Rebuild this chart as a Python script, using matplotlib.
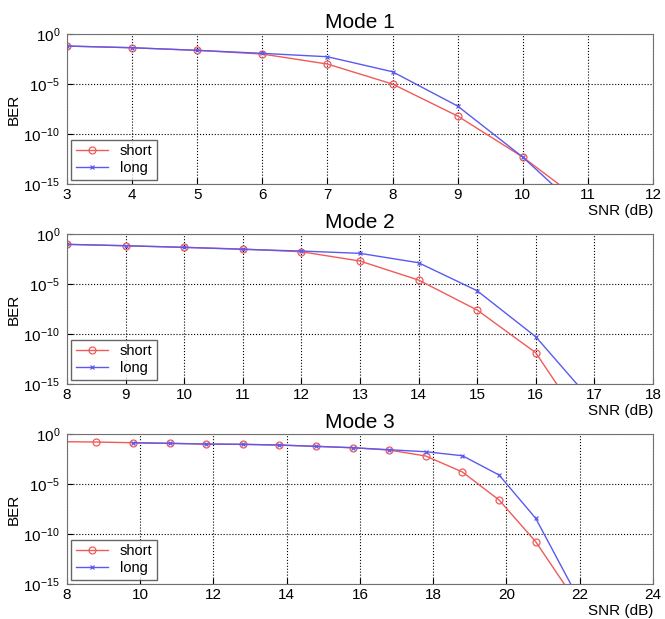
import matplotlib
matplotlib.use("Agg")
import matplotlib.pyplot as plt
import numpy as np

plt.rcParams['font.family'] = ['Liberation Sans', 'DejaVu Sans']

# log10(BER)
snr1 = [3, 4, 5, 6, 7, 8, 9, 10, 11]
short1 = [-1.2, -1.37, -1.63, -2.0, -3.0, -5.0, -8.2, -12.3, -17.2]
long1 = [-1.2, -1.37, -1.63, -1.93, -2.27, -3.77, -7.2, -12.3, -18.3]

snr2 = [8, 9, 10, 11, 12, 13, 14, 15, 16, 17]
short2 = [-1.03, -1.17, -1.33, -1.5, -1.77, -2.7, -4.6, -7.6, -11.87, -20.6]
long2 = [-1.03, -1.17, -1.33, -1.53, -1.7, -1.93, -2.87, -5.67, -10.27, -17.0]

snr3_short = [7.8, 8.8, 9.8, 10.8, 11.8, 12.8, 13.8, 14.8, 15.8, 16.8, 17.8, 18.8, 19.8, 20.8, 21.8]
short3 = [-0.76, -0.8, -0.87, -0.93, -1.0, -1.03, -1.1, -1.23, -1.37, -1.6, -2.2, -3.8, -6.6, -10.77, -16.2]
snr3_long = [9.8, 10.8, 11.8, 12.8, 13.8, 14.8, 15.8, 16.8, 17.8, 18.8, 19.8, 20.8, 21.8]
long3 = [-0.87, -0.93, -1.0, -1.03, -1.1, -1.23, -1.37, -1.57, -1.77, -2.17, -4.1, -8.43, -15.3]

panels = [
    ("Mode 1", snr1, short1, snr1, long1, (3, 12), np.arange(3, 13, 1)),
    ("Mode 2", snr2, short2, snr2, long2, (8, 18), np.arange(8, 19, 1)),
    ("Mode 3", snr3_short, short3, snr3_long, long3, (8, 24), np.arange(8, 25, 2)),
]

red = '#f05a5a'
blue = '#5a5af0'

fig = plt.figure(figsize=(6.65, 6.19), dpi=100)
bottoms = [0.7027, 0.3796, 0.0565]

for (title, xs, ys, xl, yl, xlim, xt), b in zip(panels, bottoms):
    ax = fig.add_axes([0.1008, b, 0.881, 0.2423])
    ax.semilogy(xs, 10.0 ** np.array(ys), color=red, lw=1, marker='o',
                ms=5, mfc='none', mec=red, mew=0.9, label='short')
    ax.semilogy(xl, 10.0 ** np.array(yl), color=blue, lw=1, marker='x',
                ms=3, mew=0.9, label='long')
    ax.set_xlim(*xlim)
    ax.set_ylim(1e-15, 1)
    ax.set_xticks(xt)
    ax.set_yticks([1e0, 1e-5, 1e-10, 1e-15])
    ax.minorticks_off()
    ax.grid(True, color='black', linestyle=':', linewidth=0.8)
    ax.tick_params(direction='in', labelsize=11, length=4)
    ax.tick_params(axis='x', pad=3)
    ax.tick_params(axis='y', pad=5)
    for s in ax.spines.values():
        s.set_color('#707070')
    ax.set_title(title, fontsize=15, pad=4)
    ax.set_ylabel('BER', fontsize=11, labelpad=2)
    ax.set_xlabel('SNR (dB)', fontsize=11, ha='right')
    ax.xaxis.set_label_coords(1.0, -0.135)
    leg = ax.legend(loc='lower left', fontsize=10.5, fancybox=False,
                    edgecolor='#404040', borderaxespad=0.3, handlelength=2.2,
                    labelspacing=0.2, borderpad=0.3)
    leg.get_frame().set_linewidth(1.0)

fig.savefig('out.png', dpi=100)
